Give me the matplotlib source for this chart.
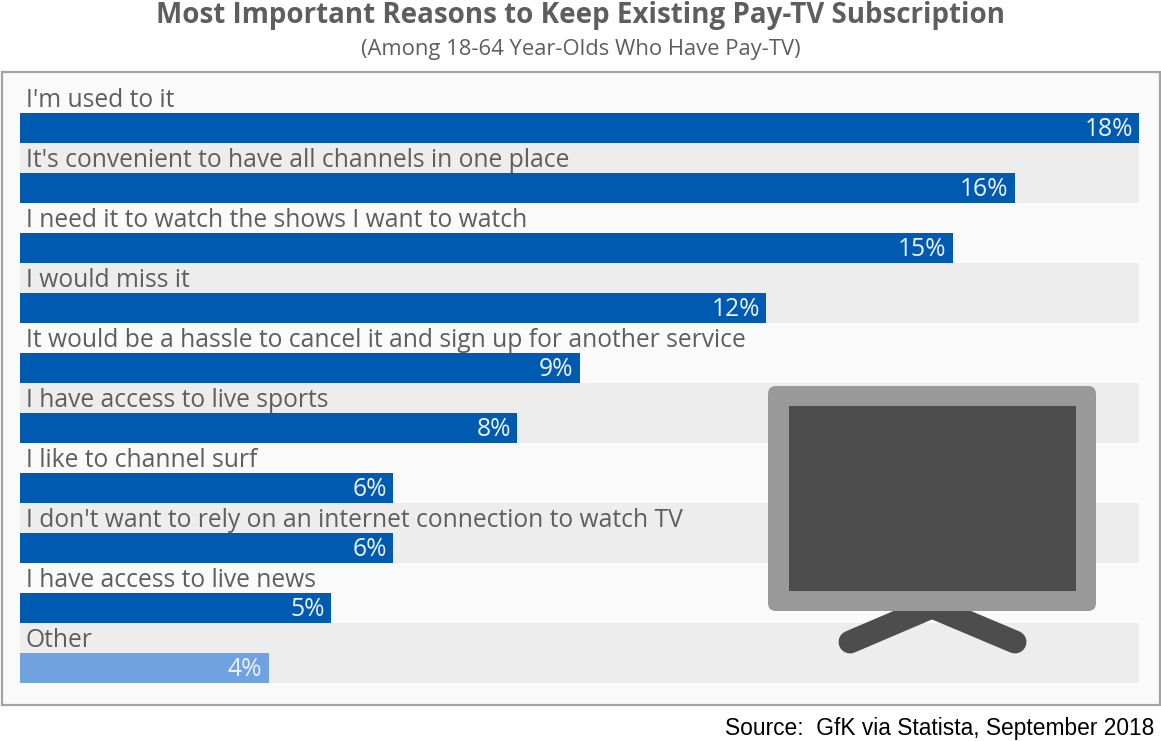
import matplotlib
matplotlib.use("Agg")
import matplotlib.pyplot as plt
from matplotlib.patches import FancyBboxPatch, Rectangle

W, H = 1161, 741

# Data
reasons = [
    "I'm used to it",
    "It's convenient to have all channels in one place",
    "I need it to watch the shows I want to watch",
    "I would miss it",
    "It would be a hassle to cancel it and sign up for another service",
    "I have access to live sports",
    "I like to channel surf",
    "I don't want to rely on an internet connection to watch TV",
    "I have access to live news",
    "Other",
]
values = [18, 16, 15, 12, 9, 8, 6, 6, 5, 4]

BLUE = "#005BB0"
LIGHT_BLUE = "#70A2E2"
GREY_TEXT = "#5E5E5E"

plt.rcParams["font.family"] = ["Open Sans", "DejaVu Sans"]

fig = plt.figure(figsize=(W / 100, H / 100), dpi=100, facecolor="white")


def px_axes(x0, y0, x1, y1, **kw):
    # axes placed by picture pixels, y counted from the top
    return fig.add_axes([x0 / W, 1 - y1 / H, (x1 - x0) / W, (y1 - y0) / H], **kw)


# panel behind the bars
bg = px_axes(0, 0, W, H, zorder=0)
bg.set_xlim(0, W)
bg.set_ylim(H, 0)
bg.axis("off")
bg.add_patch(Rectangle((2, 72), 1158, 633, fc="#FAFAFA", ec="#A3A3A3", lw=1.6))

ax = px_axes(20, 83, 1139, 683, zorder=1)
ax.patch.set_alpha(0)
ax.set_xlim(0, 18)
ax.set_ylim(10, 0)
ax.axis("off")

for i, (reason, val) in enumerate(zip(reasons, values)):
    if i % 2 == 1:
        ax.barh(i + 0.5, 18, height=1, color="#EDEDED", zorder=1)
    color = LIGHT_BLUE if reason == "Other" else BLUE
    ax.barh(i + 0.75, val, height=0.5, color=color, zorder=2)
    ax.text(0.09, i + 0.285, reason, fontsize=17.7, color=GREY_TEXT,
            va="center", ha="left", zorder=3)
    ax.text(val - 0.1, i + 0.77, f"{val}%", fontsize=17.7, color="#EEF3FA",
            va="center", ha="right", zorder=3)

# TV drawing sits on top of the bands
tv = px_axes(0, 0, W, H, zorder=2)
tv.patch.set_alpha(0)
tv.set_xlim(0, W)
tv.set_ylim(H, 0)
tv.axis("off")
for foot_x in (850, 1015):
    tv.plot([932, foot_x], [607, 642], color="#4D4D4D", lw=16.5,
            solid_capstyle="round", zorder=1)
tv.add_patch(FancyBboxPatch((774, 392), 316, 213, boxstyle="round,pad=6,rounding_size=8",
                            fc="#999999", ec="none", zorder=2))
tv.add_patch(Rectangle((789, 406), 287, 185, fc="#4D4D4D", ec="none", zorder=3))

fig.text(581 / W, 1 - 15 / H, "Most Important Reasons to Keep Existing Pay-TV Subscription",
         fontsize=20, fontweight="bold", color=GREY_TEXT, ha="center", va="center")
fig.text(581 / W, 1 - 49 / H, "(Among 18-64 Year-Olds Who Have Pay-TV)",
         fontsize=15.8, color=GREY_TEXT, ha="center", va="center")
fig.text(1154 / W, 1 - 728.5 / H, "Source:  GfK via Statista, September 2018",
         fontsize=16.4, family="Liberation Sans", color="black", ha="right", va="center")

fig.savefig("out.png", dpi=100)
